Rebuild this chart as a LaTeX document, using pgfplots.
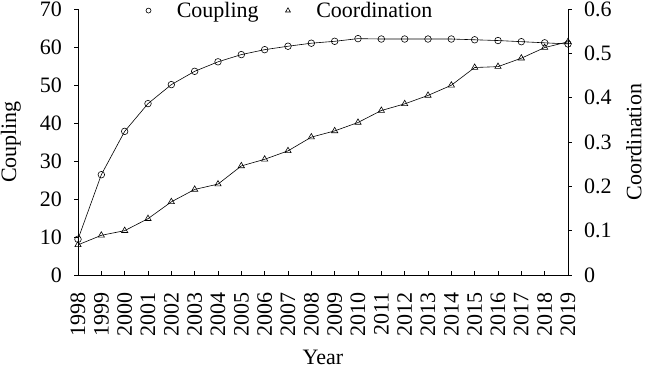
\documentclass[border=0pt]{standalone}
\usepackage{pgfplots}
\pgfplotsset{compat=1.18}
\usepackage{fontspec}
\setmainfont{Liberation Serif}
\begin{document}
\begin{tikzpicture}
\pgfplotsset{
  common/.style={
    width=490bp, height=266bp, scale only axis,
    xmin=1998, xmax=2019,
    font=\fontsize{22bp}{26bp}\selectfont,
    /pgf/number format/assume math mode=true,
    /pgf/number format/1000 sep={},
    major tick length=4bp,
    every tick/.style={black, line width=0.8bp},
    axis line style={line width=0.8bp},
  },
  limg/.style={legend image code/.code={\path (0bp,0bp) (35bp,0bp); \draw[##1] plot coordinates {(9bp,0bp)};}},
}
\begin{axis}[common,
  axis x line*=bottom, axis y line*=left,
  ymin=0, ymax=70, ytick={0,10,...,70},
  xtick={1998,...,2019},
  xtick align=inside, ytick align=outside,
  xticklabel style={rotate=90, anchor=east, inner sep=0pt},
  xticklabel shift=17bp,
  yticklabel style={inner sep=0pt}, yticklabel shift=12bp,
  xlabel={Year}, ylabel={Coupling},
  xlabel style={at={(axis description cs:0.5,-0.282)}, anchor=north, inner sep=0pt},
  ylabel style={at={(axis description cs:-0.1163,0.5)}, anchor=south, inner sep=0pt},
]
\coordinate (bl) at (axis description cs:0,0);
\coordinate (tr) at (axis description cs:1,1);
\addplot[black, line width=0.6bp, mark=o, mark size=3.3bp, mark options={fill=white, solid}] coordinates {
(1998,9.4) (1999,26.4) (2000,37.8) (2001,45.1) (2002,50.1) (2003,53.6) (2004,56.1) (2005,58.0) (2006,59.3) (2007,60.2) (2008,61.0) (2009,61.5) (2010,62.2) (2011,62.1) (2012,62.1) (2013,62.1) (2014,62.1) (2015,61.9) (2016,61.7) (2017,61.4) (2018,61.1) (2019,60.8)
};
\end{axis}
\begin{axis}[common,
  axis x line=none, axis y line*=right,
  ymin=0, ymax=0.6, ytick={0,0.1,0.2,0.3,0.4,0.5,0.6},
  ytick align=outside,
  yticklabel style={inner sep=0pt},
  yticklabel shift=12bp,
  ylabel={Coordination},
  ylabel style={at={(axis description cs:1.1184,0.5)}, anchor=north, inner sep=0pt},
  legend columns=-1,
  legend style={at={(axis description cs:0.1245,1.0338)}, anchor=north west, draw=none, fill=none, inner sep=0pt,
    /tikz/every even column/.append style={column sep=18bp}},
  limg,
]
\addlegendimage{only marks, black, mark=o, mark size=2.5bp, line width=0.6bp}
\addlegendentry{Coupling}
\addlegendimage{only marks, black, mark=triangle, mark size=2.8bp, line width=0.6bp}
\addlegendentry{Coordination}
\addplot[black, line width=0.6bp, mark=triangle, mark size=3.6bp, mark options={fill=white, solid}, forget plot] coordinates {
(1998,0.068) (1999,0.0895) (2000,0.100) (2001,0.127) (2002,0.165) (2003,0.193) (2004,0.205) (2005,0.246) (2006,0.261) (2007,0.280) (2008,0.311) (2009,0.325) (2010,0.344) (2011,0.371) (2012,0.386) (2013,0.405) (2014,0.428) (2015,0.468) (2016,0.470) (2017,0.489) (2018,0.513) (2019,0.526)
};
\end{axis}
\pgfresetboundingbox
\path[use as bounding box] ([shift={(-78bp,-94bp)}]bl) rectangle ([shift={(82bp,9bp)}]tr);
\end{tikzpicture}
\end{document}
